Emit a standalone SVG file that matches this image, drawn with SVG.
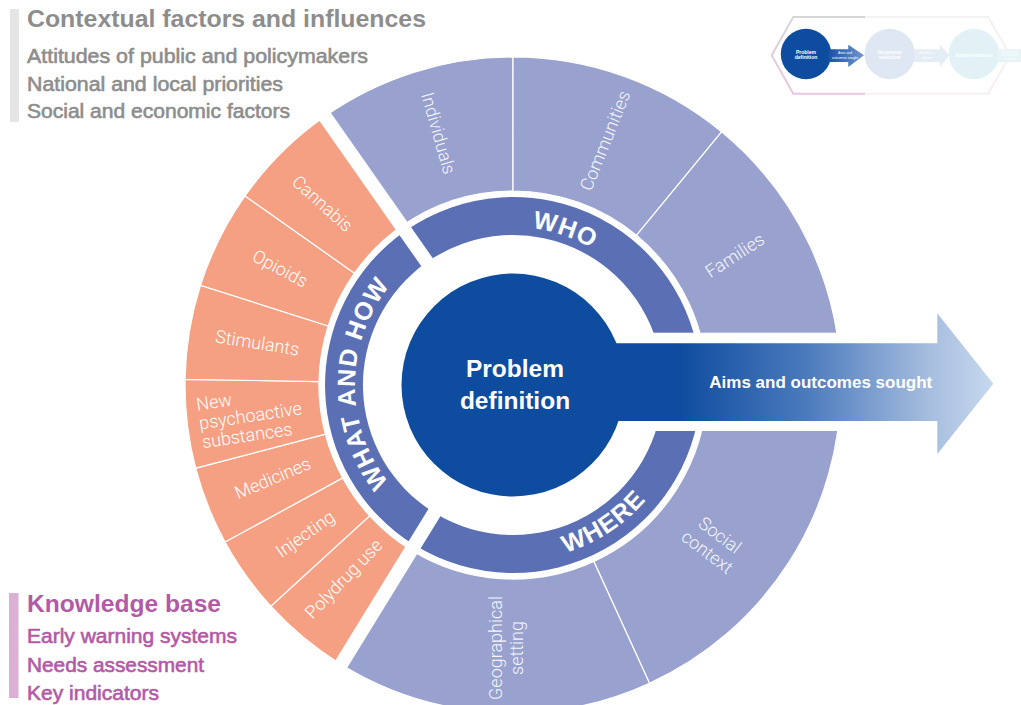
<svg xmlns="http://www.w3.org/2000/svg" width="1021" height="705" viewBox="0 0 1021 705">
<defs>
<style>
.seg-p{fill:#99a2cf;stroke:#fff;stroke-width:1.2}
.seg-o{fill:#f5a083;stroke:#fff;stroke-width:1.2}
.band{fill:#5b70b4}
.lbl{font-family:Roboto,"Liberation Sans",Arial,sans-serif;font-weight:300;font-size:18px;fill:#fff;text-anchor:middle}
.lblp{fill-opacity:0.92}
.arc{font-family:"Liberation Sans",Arial,sans-serif;font-weight:bold;font-size:25px;fill:#fff;letter-spacing:1px}
.gap{stroke:#fff;stroke-width:14;fill:none}
.ctx{font-family:"Liberation Sans",Arial,sans-serif;fill:#8d8d8d}
.kb{font-family:"Liberation Sans",Arial,sans-serif;fill:#b35aa6}
.item{font-size:20px;stroke-width:0.6px}
.head{font-size:24px;font-weight:bold}
.mini{font-family:"Liberation Sans",Arial,sans-serif;fill:#fff;text-anchor:middle}
</style>
<linearGradient id="arrowGrad" gradientUnits="userSpaceOnUse" x1="680" y1="0" x2="993" y2="0">
<stop offset="0" stop-color="#0f4c9f"/>
<stop offset="0.4" stop-color="#4a7abc"/>
<stop offset="0.8" stop-color="#a7bedf"/>
<stop offset="1" stop-color="#c6d8ee"/>
</linearGradient>
<linearGradient id="miniArrow" gradientUnits="userSpaceOnUse" x1="831" y1="0" x2="864" y2="0">
<stop offset="0" stop-color="#1d55a7"/>
<stop offset="1" stop-color="#7298d0"/>
</linearGradient>
<linearGradient id="hexGrad" gradientUnits="userSpaceOnUse" x1="0" y1="17" x2="0" y2="94">
<stop offset="0" stop-color="#d6d6d6"/>
<stop offset="1" stop-color="#e7c6df"/>
</linearGradient>
<path id="pWho" d="M374.3,309.4 A158,158 0 0 1 669.2,408.6"/>
<path id="pWhere" d="M385.1,505.9 A176,176 0 0 0 674.5,315.1"/>
<path id="pWhat" d="M497.9,542.3 A158,158 0 0 1 500.6,227.5"/>
</defs>
<rect width="1021" height="705" fill="#fff"/>

<g id="contextual-factors">
<rect x="10" y="9" width="9" height="113" fill="#e5e5e5"/>
<text class="ctx head" x="27" y="26.7" textLength="399" lengthAdjust="spacingAndGlyphs">Contextual factors and influences</text>
<text class="ctx item" stroke="#8d8d8d" x="27" y="62.7" textLength="341" lengthAdjust="spacingAndGlyphs">Attitudes of public and policymakers</text>
<text class="ctx item" stroke="#8d8d8d" x="27" y="90.7" textLength="256" lengthAdjust="spacingAndGlyphs">National and local priorities</text>
<text class="ctx item" stroke="#8d8d8d" x="27" y="118.3" textLength="263" lengthAdjust="spacingAndGlyphs">Social and economic factors</text>
</g>

<g id="knowledge-base">
<rect x="9" y="593" width="9.5" height="105" fill="#dcb0d5"/>
<text class="kb head" x="27" y="611.7" textLength="194" lengthAdjust="spacingAndGlyphs">Knowledge base</text>
<text class="kb item" stroke="#b35aa6" x="27" y="643.3" textLength="210" lengthAdjust="spacingAndGlyphs">Early warning systems</text>
<text class="kb item" stroke="#b35aa6" x="27" y="671.7" textLength="177" lengthAdjust="spacingAndGlyphs">Needs assessment</text>
<text class="kb item" stroke="#b35aa6" x="27" y="700" textLength="132" lengthAdjust="spacingAndGlyphs">Key indicators</text>
</g>

<g id="segments-who">
<g id="seg-individuals"><path class="seg-p" d="M324.9,116.3 A328,328 0 0 1 513,57 L513,191 A194,194 0 0 0 401.7,226.1 Z"/>
<text class="lbl lblp" transform="translate(438.3,133.3) rotate(74)" y="6">Individuals</text></g>
<g id="seg-communities"><path class="seg-p" d="M513,57 A328,328 0 0 1 721.6,131.9 L636.4,235.3 A194,194 0 0 0 513,191 Z"/>
<text class="lbl lblp" transform="translate(605.3,140.7) rotate(-68)" y="6">Communities</text></g>
<g id="seg-families"><path class="seg-p" d="M721.6,131.9 A328,328 0 0 1 841,385 L707,385 A194,194 0 0 0 636.4,235.3 Z"/>
<text class="lbl lblp" transform="translate(735,255.5) rotate(-33)" y="6">Families</text></g>
</g>

<g id="segments-where">
<g id="seg-social"><path class="seg-p" d="M841,385 A328,328 0 0 1 649.5,683.2 L593.8,561.4 A194,194 0 0 0 707,385 Z"/>
<text class="lbl lblp" transform="translate(713.7,543.3) rotate(37)"><tspan x="0" y="-4">Social</tspan><tspan x="0" y="17">context</tspan></text></g>
<g id="seg-geographical"><path class="seg-p" d="M649.5,683.2 A328,328 0 0 1 341.1,664.4 L411.3,550.2 A194,194 0 0 0 593.8,561.4 Z"/>
<text class="lbl lblp" transform="translate(512,648) rotate(-90)"><tspan x="0" y="-10">Geographical</tspan><tspan x="0" y="11">setting</tspan></text></g>
</g>

<g id="segments-what">
<g id="seg-polydrug"><path class="seg-o" d="M341.1,664.4 A328,328 0 0 1 270.8,606.2 L369.7,515.8 A194,194 0 0 0 411.3,550.2 Z"/>
<text class="lbl" transform="translate(343.7,579) rotate(-46)" y="6">Polydrug use</text></g>
<g id="seg-injecting"><path class="seg-o" d="M270.8,606.2 A328,328 0 0 1 225,542 L342.7,477.9 A194,194 0 0 0 369.7,515.8 Z"/>
<text class="lbl" transform="translate(305.3,534) rotate(-35)" y="6">Injecting</text></g>
<g id="seg-medicines"><path class="seg-o" d="M225,542 A328,328 0 0 1 195.7,468.2 L325.3,434.2 A194,194 0 0 0 342.7,477.9 Z"/>
<text class="lbl" transform="translate(272.8,478.3) rotate(-23)" y="6">Medicines</text></g>
<g id="seg-nps"><path class="seg-o" d="M195.7,468.2 A328,328 0 0 1 185.05,379.3 L319,381.6 A194,194 0 0 0 325.3,434.2 Z"/>
<text class="lbl" style="text-anchor:start" transform="translate(197.3,410.7) rotate(-8.5)"><tspan x="0" y="0">New</tspan><tspan x="0" y="19">psychoactive</tspan><tspan x="0" y="38">substances</tspan></text></g>
<g id="seg-stimulants"><path class="seg-o" d="M185.05,379.3 A328,328 0 0 1 200.5,285.3 L328.2,326 A194,194 0 0 0 319,381.6 Z"/>
<text class="lbl" transform="translate(257.3,343) rotate(9)" y="6">Stimulants</text></g>
<g id="seg-opioids"><path class="seg-o" d="M200.5,285.3 A328,328 0 0 1 245,195.9 L354.5,273.2 A194,194 0 0 0 328.2,326 Z"/>
<text class="lbl" transform="translate(280,268.7) rotate(28)" y="6">Opioids</text></g>
<g id="seg-cannabis"><path class="seg-o" d="M245,195.9 A328,328 0 0 1 324.9,116.3 L401.7,226.1 A194,194 0 0 0 354.5,273.2 Z"/>
<text class="lbl" transform="translate(322.3,203.7) rotate(42)" y="6">Cannabis</text></g>
</g>

<g id="band-who"><path class="band" d="M405.2,231 A188,188 0 0 1 701,385 L663,385 A150,150 0 0 0 427,262.1 Z"/>
<text class="arc"><textPath href="#pWho" startOffset="50%" text-anchor="middle">WHO</textPath></text></g>
<g id="band-where"><path class="band" d="M701,385 A188,188 0 0 1 414.5,545.1 L434.4,512.8 A150,150 0 0 0 663,385 Z"/>
<text class="arc"><textPath href="#pWhere" startOffset="50%" text-anchor="middle">WHERE</textPath></text></g>
<g id="band-what"><path class="band" d="M414.5,545.1 A188,188 0 0 1 405.2,231 L427,262.1 A150,150 0 0 0 434.4,512.8 Z"/>
<text class="arc"><textPath href="#pWhat" startOffset="50%" text-anchor="middle">WHAT AND HOW</textPath></text></g>

<g id="gaps">
<line class="gap" x1="432.7" y1="270.3" x2="315.1" y2="102.4"/>
<line class="gap" x1="439.6" y1="504.2" x2="332.2" y2="678.8"/>
<rect x="612" y="332.7" width="240" height="98.3" fill="#fff"/>
</g>

<g id="problem-definition">
<circle cx="513" cy="385" r="111.5" fill="#0e4c9f"/>
</g>

<g id="connectors">
<path id="aims-arrow" d="M600,343.3 L937.3,343.3 L937.3,313.3 L993.3,383.7 L937.3,454 L937.3,421 L600,421 Z" fill="url(#arrowGrad)"/>
</g>

<g id="labels-center">
<text font-family="Liberation Sans, Arial, sans-serif" font-weight="bold" font-size="24.5" fill="#fff" text-anchor="middle"><tspan x="515" y="376.7">Problem</tspan><tspan x="515" y="409.3">definition</tspan></text>
<text font-family="Liberation Sans, Arial, sans-serif" font-weight="bold" font-size="17" fill="#fff" x="709.3" y="388.3">Aims and outcomes sought</text>
</g>

<g id="mini-process">
<path d="M865,17 L988.3,17 L1010,55.3 L988.3,93.7 L865,93.7" fill="none" stroke="url(#hexGrad)" stroke-width="2" stroke-opacity="0.3"/>
<path d="M865,17 L793.3,17 L771.7,55.3 L793.3,93.7 L865,93.7" fill="none" stroke="url(#hexGrad)" stroke-width="2"/>
<g id="mini-problem">
<circle cx="806" cy="54" r="25.2" fill="#0e4c9f"/>
<text class="mini" font-size="5" font-weight="bold"><tspan x="806" y="53.7">Problem</tspan><tspan x="806" y="59">definition</tspan></text>
</g>
<g id="mini-arrow1">
<path d="M829,49.3 L848.3,49.3 L848.3,44.7 L864,55.3 L848.3,67 L848.3,62 L829,62 Z" fill="url(#miniArrow)"/>
<text class="mini" font-size="3.4"><tspan x="845" y="54">Aims and</tspan><tspan x="845" y="58.5">outcomes sought</tspan></text>
</g>
<g id="mini-response">
<circle cx="889.7" cy="54" r="25.2" fill="#dfe7f3"/>
<text class="mini" font-size="5" font-weight="bold"><tspan x="889.7" y="53.5">Response</tspan><tspan x="889.7" y="59">selection</tspan></text>
</g>
<g id="mini-arrow2">
<path d="M914,49.3 L940,49.3 L940,44.7 L949.3,55.3 L940,67 L940,62 L914,62 Z" fill="#e4edf6"/>
<text class="mini" font-size="3.4"><tspan x="927" y="54">Response</tspan><tspan x="927" y="58.5">chosen</tspan></text>
</g>
<g id="mini-implementation">
<circle cx="974" cy="54" r="25.2" fill="#e1f1f6"/>
<text class="mini" font-size="5" font-weight="bold" x="974" y="56.5">Implementation</text>
</g>
<g id="mini-arrow3">
<path d="M998,49.3 L1021,49.3 L1021,62 L998,62 Z" fill="#e6f4f8"/>
<text class="mini" font-size="3"><tspan x="1010" y="52.5">Assessment</tspan><tspan x="1010" y="56">of outcomes</tspan><tspan x="1010" y="59.5">achieved</tspan></text>
</g>
</g>
</svg>
